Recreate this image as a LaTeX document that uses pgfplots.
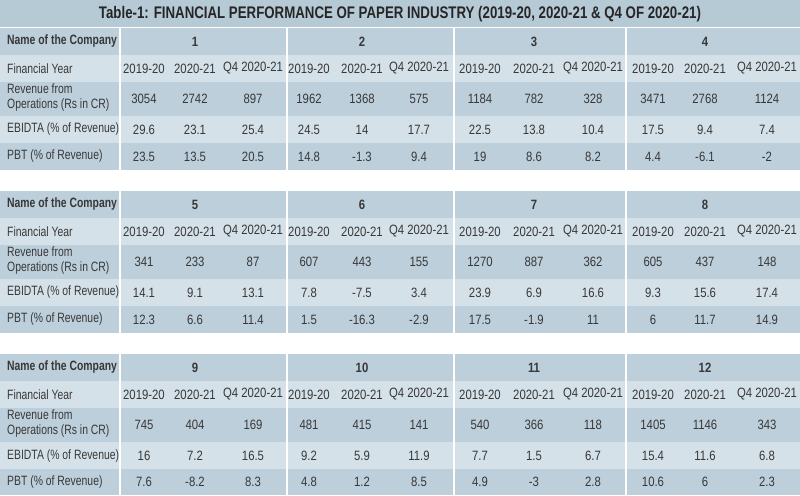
\documentclass[border=0pt]{standalone}
\usepackage{pgfplots}
\pgfplotsset{compat=1.18}
\usepackage{pgfplotstable}
\usepackage{fontspec}
\setmainfont{Liberation Sans}[FakeStretch=0.77]
\newfontfamily\numfont{Liberation Sans}[FakeStretch=0.84]
\newfontfamily\titlefont{Liberation Sans}[FakeStretch=0.79]
\definecolor{bandDark}{HTML}{BCCFDB}
\definecolor{bandLight}{HTML}{D5E1E8}
\definecolor{titleBg}{HTML}{B6CAD6}
\definecolor{txt}{HTML}{383838}
\definecolor{ttl}{HTML}{262626}

\pgfplotstableread[col sep=comma]{
x,fy,rev,eb,pbt
144,2019-20,3054,29.6,23.5
195,2020-21,2742,23.1,13.5
253,Q4 2020-21,897,25.4,20.5
309,2019-20,1962,24.5,14.8
362,2020-21,1368,14,-1.3
419,Q4 2020-21,575,17.7,9.4
480,2019-20,1184,22.5,19
534,2020-21,782,13.8,8.6
593,Q4 2020-21,328,10.4,8.2
653,2019-20,3471,17.5,4.4
705,2020-21,2768,9.4,-6.1
767,Q4 2020-21,1124,7.4,-2
}\blockA
\pgfplotstableread[col sep=comma]{
x,fy,rev,eb,pbt
144,2019-20,341,14.1,12.3
195,2020-21,233,9.1,6.6
253,Q4 2020-21,87,13.1,11.4
309,2019-20,607,7.8,1.5
362,2020-21,443,-7.5,-16.3
419,Q4 2020-21,155,3.4,-2.9
480,2019-20,1270,23.9,17.5
534,2020-21,887,6.9,-1.9
593,Q4 2020-21,362,16.6,11
653,2019-20,605,9.3,6
705,2020-21,437,15.6,11.7
767,Q4 2020-21,148,17.4,14.9
}\blockB
\pgfplotstableread[col sep=comma]{
x,fy,rev,eb,pbt
144,2019-20,745,16,7.6
195,2020-21,404,7.2,-8.2
253,Q4 2020-21,169,16.5,8.3
309,2019-20,481,9.2,4.8
362,2020-21,415,5.9,1.2
419,Q4 2020-21,141,11.9,8.5
480,2019-20,540,7.7,4.9
534,2020-21,366,1.5,-3
593,Q4 2020-21,118,6.7,2.8
653,2019-20,1405,15.4,10.6
705,2020-21,1146,11.6,6
767,Q4 2020-21,343,6.8,2.3
}\blockC
\pgfplotstableread[col sep=comma]{
x,name
195,1
362,2
534,3
705,4
}\compA
\pgfplotstableread[col sep=comma]{
x,name
195,5
362,6
534,7
705,8
}\compB
\pgfplotstableread[col sep=comma]{
x,name
195,9
362,10
534,11
705,12
}\compC

\pgfplotsset{
  celltext/.style={only marks, mark=none, point meta=explicit symbolic, nodes near coords,
    every node near coord/.style={anchor=center, inner sep=0pt, text=txt, font=\numfont\fontsize{13.5}{15}\selectfont}},
}

% #1 data table, #2 company table, #3..#8 row boundaries
\newcommand{\drawblock}[8]{%
  \addplot[fill=bandDark, draw=none] coordinates {(0,#3) (800,#3) (800,#8) (0,#8)} -- cycle;
  \addplot[fill=bandLight, draw=none] coordinates {(0,#4) (800,#4) (800,#5) (0,#5)} -- cycle;
  \addplot[fill=bandLight, draw=none] coordinates {(0,#6) (800,#6) (800,#7) (0,#7)} -- cycle;
  \addplot[white, line width=1.6pt] coordinates {(120,#3) (120,#8)};
  \addplot[white, line width=1.6pt] coordinates {(287,#3) (287,#8)};
  \addplot[white, line width=1.6pt] coordinates {(454,#3) (454,#8)};
  \addplot[white, line width=1.6pt] coordinates {(626,#3) (626,#8)};
  \addplot[celltext, every node near coord/.append style={font=\numfont\fontsize{13.5}{15}\selectfont\bfseries}]
     table[x=x, y expr={(#3+#4)/2}, meta=name] {#2};
  \addplot[celltext] table[x=x, y expr={(#4+#5)/2}, meta=fy] {#1};
  \addplot[celltext] table[x=x, y expr={(#5+#6)/2}, meta=rev] {#1};
  \addplot[celltext] table[x=x, y expr={(#6+#7)/2}, meta=eb] {#1};
  \addplot[celltext] table[x=x, y expr={(#7+#8)/2}, meta=pbt] {#1};
  \node[anchor=west, inner sep=0pt, text=txt, font=\fontsize{13.5}{15}\selectfont\bfseries] at (axis cs:7,{(#3+#4)/2}) {Name of the Company};
  \node[anchor=west, inner sep=0pt, text=txt, font=\fontsize{13.5}{15}\selectfont] at (axis cs:7,{(#4+#5)/2}) {Financial Year};
  \node[anchor=west, inner sep=0pt, text=txt, align=left, font=\fontsize{13.5}{15}\selectfont] at (axis cs:7,{(#5+#6)/2-1}) {Revenue from\\Operations (Rs in CR)};
  \node[anchor=west, inner sep=0pt, text=txt, font=\fontsize{13.5}{15}\selectfont] at (axis cs:7,{(#6+#7)/2}) {EBIDTA (\% of Revenue)};
  \node[anchor=west, inner sep=0pt, text=txt, font=\fontsize{13.5}{15}\selectfont] at (axis cs:7,{(#7+#8)/2}) {PBT (\% of Revenue)};
}

\begin{document}
\begin{tikzpicture}
\begin{axis}[
  width=800pt, height=495pt, scale only axis,
  xmin=0, xmax=800, ymin=0, ymax=495, y dir=reverse,
  hide axis, clip=false,
]
\addplot[fill=titleBg, draw=none] coordinates {(0,0) (800,0) (800,27) (0,27)} -- cycle;
\node[text=ttl, inner sep=0pt, font=\titlefont\fontsize{16.8}{18}\selectfont\bfseries] at (axis cs:400,14) {Table-1: FINANCIAL PERFORMANCE OF PAPER INDUSTRY (2019-20, 2020-21 \& Q4 OF 2020-21)};
\drawblock{\blockA}{\compA}{28}{55}{82}{116}{143}{170}
\drawblock{\blockB}{\compB}{191}{218}{245}{279}{306}{333}
\drawblock{\blockC}{\compC}{354}{381}{408}{442}{469}{495}
\end{axis}
\end{tikzpicture}
\end{document}
